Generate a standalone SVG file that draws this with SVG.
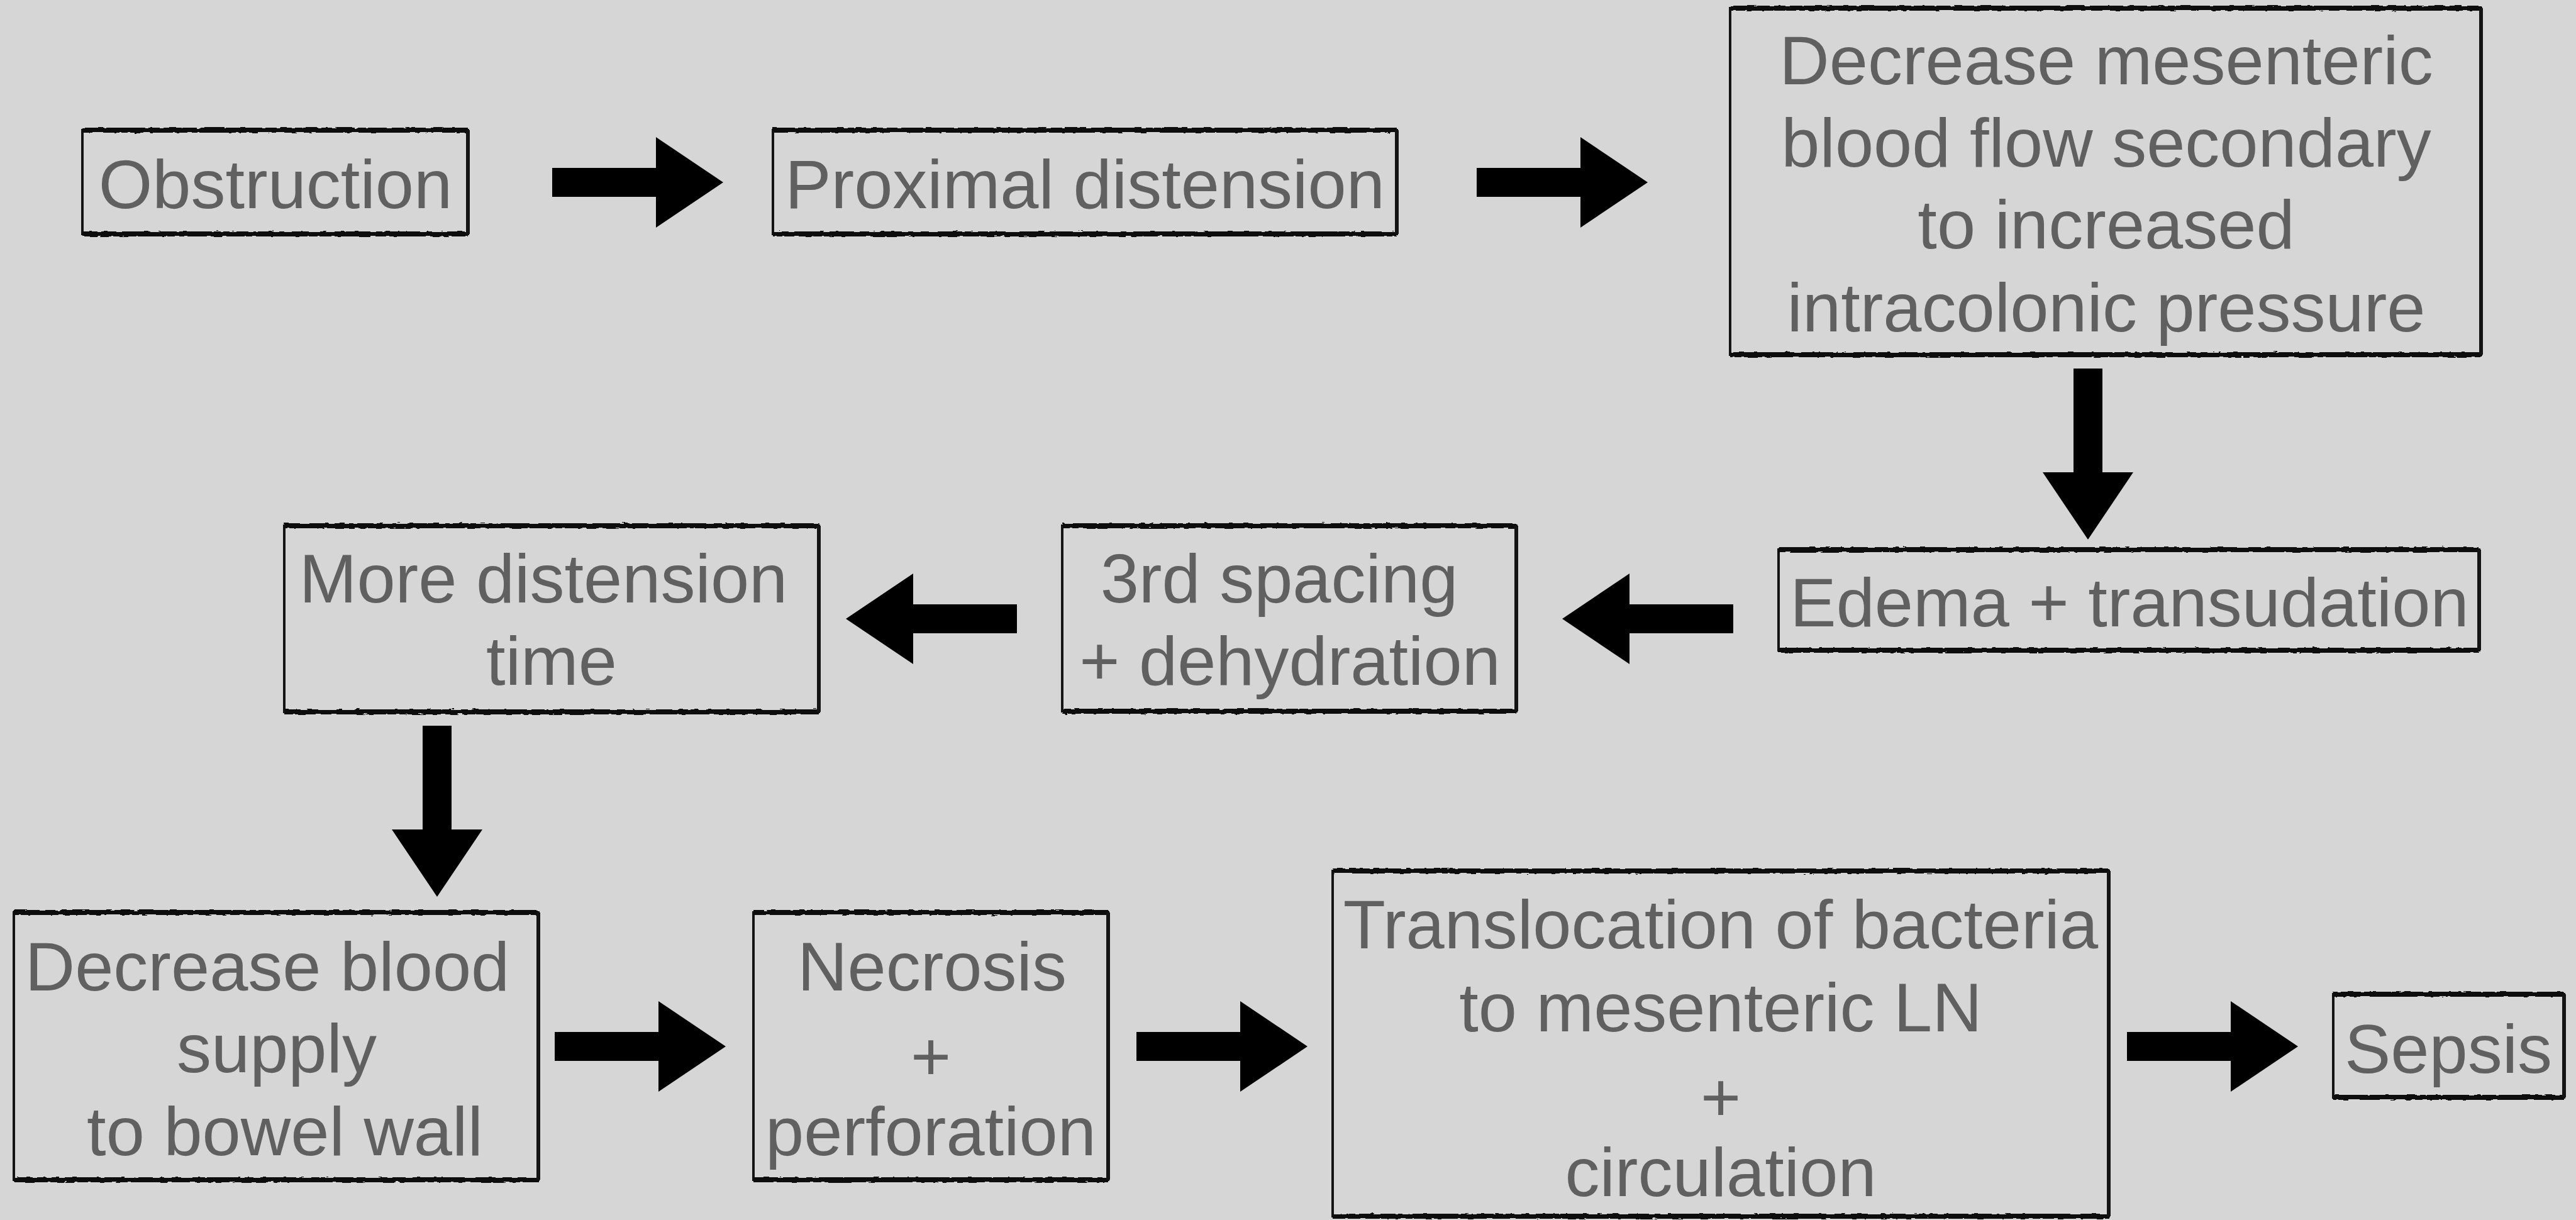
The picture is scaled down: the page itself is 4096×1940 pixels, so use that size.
<svg xmlns="http://www.w3.org/2000/svg" width="4096" height="1940" viewBox="0 0 4096 1940">
<style>
.bg{fill:#d6d6d6}
.box{fill:none;stroke:#141414;stroke-width:4}
.hedge{fill:none;stroke:#0c0c0c;stroke-width:8;filter:url(#rough)}
.redge{fill:none;stroke:#141414;stroke-width:6}
.lbl{font-family:"Liberation Sans",Arial,Helvetica,sans-serif;font-size:110px;fill:#606060;text-anchor:middle}
.arrow{fill:#000}
</style>
<defs>
<filter id="rough" x="-5%" y="-50%" width="110%" height="200%">
<feTurbulence type="fractalNoise" baseFrequency="0.08 0.5" numOctaves="2" seed="3" result="n"/>
<feDisplacementMap in="SourceGraphic" in2="n" scale="5" xChannelSelector="R" yChannelSelector="G"/>
</filter>
<path id="arr" d="M0,0 L-107,-72 L-107,-23 L-272,-23 L-272,23 L-107,23 L-107,72 Z"/>
</defs>
<rect class="bg" x="0" y="0" width="4096" height="1940"/>

<g id="connectors">
<use href="#arr" class="arrow" transform="translate(1150,290)"/>
<use href="#arr" class="arrow" transform="translate(2620,290)"/>
<use href="#arr" class="arrow" transform="translate(3320,858) rotate(90)"/>
<use href="#arr" class="arrow" transform="translate(2484,984) rotate(180)"/>
<use href="#arr" class="arrow" transform="translate(1345,984) rotate(180)"/>
<use href="#arr" class="arrow" transform="translate(695,1426) rotate(90)"/>
<use href="#arr" class="arrow" transform="translate(1154,1664)"/>
<use href="#arr" class="arrow" transform="translate(2079,1664)"/>
<use href="#arr" class="arrow" transform="translate(3654,1664)"/>
</g>

<g id="n-obstruction">
<rect class="box" x="131" y="207" width="613" height="165"/>
<path class="hedge" d="M131,207 H744 M131,372 H744"/>
<path class="redge" d="M744,207 V372"/>
<text class="lbl" x="438" y="331">Obstruction</text>
</g>

<g id="n-proximal">
<rect class="box" x="1229" y="207" width="992" height="165"/>
<path class="hedge" d="M1229,207 H2221 M1229,372 H2221"/>
<path class="redge" d="M2221,207 V372"/>
<text class="lbl" x="1725" y="331">Proximal distension</text>
</g>

<g id="n-mesenteric">
<rect class="box" x="2751" y="13" width="1194" height="551"/>
<path class="hedge" d="M2751,13 H3945 M2751,564 H3945"/>
<path class="redge" d="M3945,13 V564"/>
<text class="lbl" x="3349" y="134">Decrease mesenteric</text>
<text class="lbl" x="3349" y="265">blood flow secondary</text>
<text class="lbl" x="3349" y="395">to increased</text>
<text class="lbl" x="3349" y="527">intracolonic pressure</text>
</g>

<g id="n-edema">
<rect class="box" x="2828" y="874" width="1114" height="160"/>
<path class="hedge" d="M2828,874 H3942 M2828,1034 H3942"/>
<path class="redge" d="M3942,874 V1034"/>
<text class="lbl" x="3386" y="996">Edema + transudation</text>
</g>

<g id="n-third-spacing">
<rect class="box" x="1689" y="836" width="722" height="295"/>
<path class="hedge" d="M1689,836 H2411 M1689,1131 H2411"/>
<path class="redge" d="M2411,836 V1131"/>
<text class="lbl" x="2034" y="958">3rd spacing</text>
<text class="lbl" x="2051" y="1089">+ dehydration</text>
</g>

<g id="n-more-distension">
<rect class="box" x="452" y="836" width="850" height="296"/>
<path class="hedge" d="M452,836 H1302 M452,1132 H1302"/>
<path class="redge" d="M1302,836 V1132"/>
<text class="lbl" x="864" y="958">More distension</text>
<text class="lbl" x="877" y="1089">time</text>
</g>

<g id="n-blood-supply">
<rect class="box" x="22" y="1451" width="834" height="425"/>
<path class="hedge" d="M22,1451 H856 M22,1876 H856"/>
<path class="redge" d="M856,1451 V1876"/>
<text class="lbl" x="425" y="1575">Decrease blood</text>
<text class="lbl" x="440" y="1705">supply</text>
<text class="lbl" x="453" y="1837">to bowel wall</text>
</g>

<g id="n-necrosis">
<rect class="box" x="1198" y="1451" width="564" height="425"/>
<path class="hedge" d="M1198,1451 H1762 M1198,1876 H1762"/>
<path class="redge" d="M1762,1451 V1876"/>
<text class="lbl" x="1482" y="1575">Necrosis</text>
<text class="lbl" x="1480" y="1718">+</text>
<text class="lbl" x="1480" y="1837">perforation</text>
</g>

<g id="n-translocation">
<rect class="box" x="2119" y="1385" width="1234" height="549"/>
<path class="hedge" d="M2119,1385 H3353 M2119,1934 H3353"/>
<path class="redge" d="M3353,1385 V1934"/>
<text class="lbl" x="2736" y="1508">Translocation of bacteria</text>
<text class="lbl" x="2736" y="1640">to mesenteric LN</text>
<text class="lbl" x="2736" y="1783">+</text>
<text class="lbl" x="2736" y="1902">circulation</text>
</g>

<g id="n-sepsis">
<rect class="box" x="3710" y="1581" width="367" height="164"/>
<path class="hedge" d="M3710,1581 H4077 M3710,1745 H4077"/>
<path class="redge" d="M4077,1581 V1745"/>
<text class="lbl" x="3893" y="1706">Sepsis</text>
</g>
</svg>
